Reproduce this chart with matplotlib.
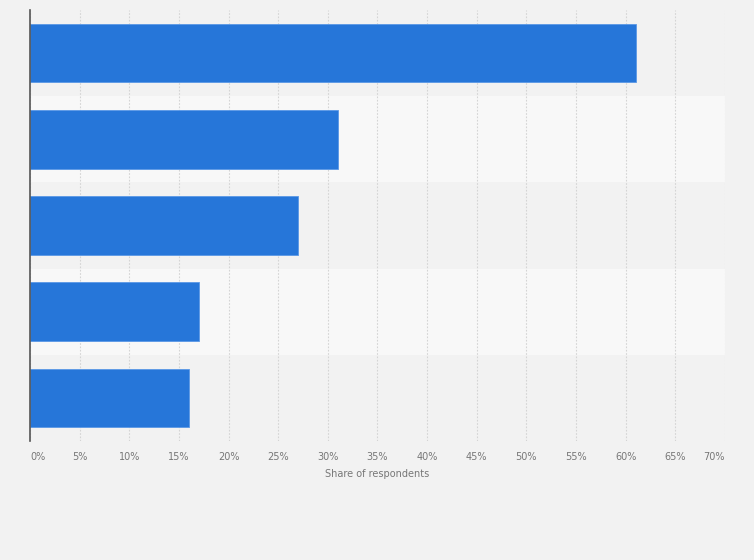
import matplotlib.pyplot as plt

# --- data ---
rows = ["A", "B", "C", "D", "E"]
share = [61, 31, 27, 17, 16]
ticks = list(range(0, 75, 5))
tick_labels = [f"{t}%" for t in ticks]

W, H = 754, 560
fig = plt.figure(figsize=(W / 100, H / 100), dpi=100, facecolor="#f2f2f2")
ax = fig.add_axes([30 / W, (H - 441) / H, 695 / W, 431 / H])
ax.set_facecolor("#f2f2f2")

ypos = list(range(len(rows)))
# alternating row bands
for i in ypos:
    if i % 2 == 1:
        ax.axhspan(i - 0.5, i + 0.5, color="#f8f8f8", zorder=0, lw=0)

ax.barh(ypos, share, height=0.68, color="#2676d9", edgecolor="#5a98e6",
        linewidth=0.6, zorder=3)

ax.set_xlim(0, 70)
ax.set_ylim(len(rows) - 0.5, -0.5)
ax.set_xticks(ticks)
lbls = ax.set_xticklabels(tick_labels)
lbls[0].set_horizontalalignment("left")
lbls[-1].set_horizontalalignment("right")
ax.grid(axis="x", color="#d4d4d4", linestyle=(0, (1.5, 1.5)), linewidth=0.8, zorder=1)
ax.set_yticks([])
ax.tick_params(axis="x", length=0, pad=8, labelsize=7, labelcolor="#777777")
for s in ["top", "right", "bottom"]:
    ax.spines[s].set_visible(False)
ax.spines["left"].set_color("#555555")
ax.spines["left"].set_linewidth(1.2)
ax.spines["left"].set_zorder(4)

ax.set_xlabel("Share of respondents", fontsize=7, color="#777777", labelpad=5)

fig.savefig("out.png", dpi=100, facecolor=fig.get_facecolor())
